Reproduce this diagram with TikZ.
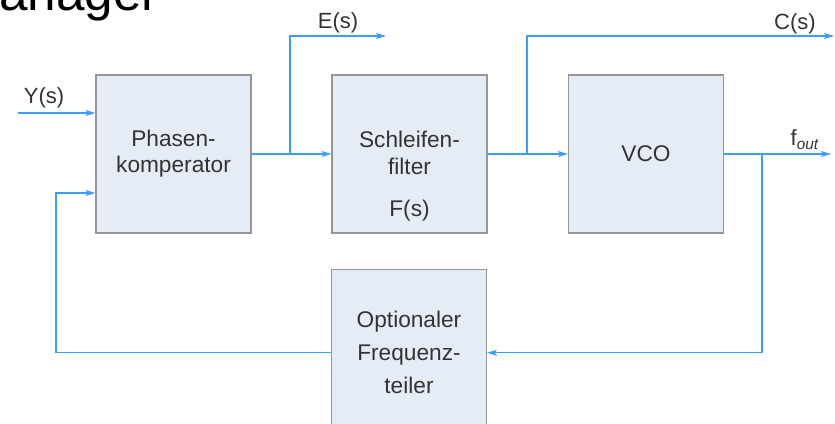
\documentclass[tikz,border=0pt]{standalone}
\usepackage{fontspec}
\setmainfont{Liberation Sans}
\usetikzlibrary{arrows.meta,positioning}
\definecolor{boxfill}{RGB}{230,236,246}
\definecolor{boxline}{RGB}{150,150,150}
\definecolor{linkblue}{RGB}{60,156,255}
\definecolor{ink}{RGB}{51,51,51}
\tikzset{every picture/.append style={x=0.75pt,y=-0.75pt}}
\tikzset{
  block/.style={draw=boxline, fill=boxfill, line width=1.1pt, minimum width=116pt,
    minimum height=118.5pt, inner sep=0pt, text=ink, align=center,
    font=\fontsize{17}{19.5}\selectfont},
  blocktext/.style={inner sep=0pt, text=ink, align=center, font=\fontsize{17}{20.25}\selectfont},
  flow/.style={draw=linkblue, line width=1.1pt, -{Stealth[length=7.5pt,width=4.5pt,inset=1.8pt]}},
  sig/.style={text=ink, font=\fontsize{16.5}{18}\selectfont, inner sep=0pt, anchor=base},
}

\begin{document}
\begin{tikzpicture}
  \useasboundingbox (0,0) rectangle (835,424);
  \clip (0,0) rectangle (835,424);
  \node[anchor=base west, inner sep=0pt, font=\fontsize{38.5}{40}\selectfont] (heading) at (-1,10.5) {anager};

  \node[block] (phase) at (173.5,154) {Phasen-\\komperator};
  \node[block] (filter) at (409.5,154) {};
  \node[blocktext] (filtertxt) at (409.5,176) {Schleifen-\\filter\\[11.25pt]F(s)};
  \node[block] (vco) at (646,154) {VCO};
  \node[block, minimum height=124.5pt, anchor=north, font=\fontsize{17}{24.75}\selectfont]
    (divider) at (409,269) {Optionaler\\Frequenz-\\teiler};

  \coordinate (yin) at (18,113);
  \coordinate (fb) at (56,193);
  \coordinate (esplit) at (290,154);
  \coordinate (eout) at (386,36);
  \coordinate (csplit) at (527,154);
  \coordinate (cout) at (834,36);
  \coordinate (fsplit) at (762,154);
  \coordinate (fout) at (831,154);

  \draw[flow] (yin) -- (yin -| phase.west);
  \draw[flow] (divider.west) -| (fb) -- (fb -| phase.west);
  \draw[flow] (phase.east) -- (filter.west);
  \draw[flow] (esplit) |- (eout);
  \draw[flow] (filter.east) -- (vco.west);
  \draw[flow] (csplit) |- (cout);
  \draw[flow] (vco.east) -- (fout);
  \draw[flow] (fsplit) |- (divider.east);

  \node[sig] (ylabel) at (44,104) {Y(s)};
  \node[sig] (elabel) at (338,29) {E(s)};
  \node[sig] (clabel) at (795,30) {C(s)};
  \node[sig] (flabel) at (805,146) {f\textsubscript{\textit{out}}};
\end{tikzpicture}
\end{document}
